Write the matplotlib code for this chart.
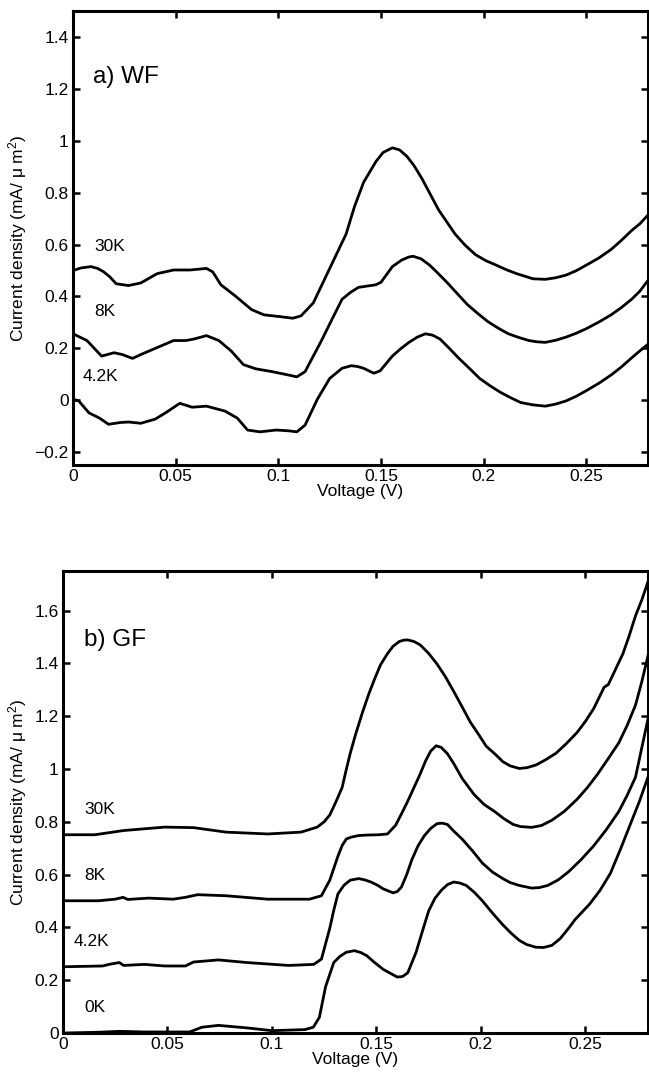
import numpy as np
import matplotlib
matplotlib.use("Agg")
import matplotlib.pyplot as plt
from matplotlib.ticker import FuncFormatter

plt.rcParams['font.family'] = ['Liberation Sans', 'DejaVu Sans']
plt.rcParams['mathtext.fontset'] = 'custom'
plt.rcParams['mathtext.rm'] = 'Liberation Sans'
plt.rcParams['mathtext.it'] = 'Liberation Sans:italic'

### panel a) WF, (voltage, current density)
wf_30k = [(0, 0.50), (0.004, 0.510), (0.0088, 0.515), (0.012, 0.508), (0.0149, 0.495),
          (0.018, 0.475), (0.021, 0.449), (0.027, 0.442), (0.033, 0.452), (0.041, 0.488),
          (0.049, 0.502), (0.057, 0.502), (0.065, 0.508), (0.068, 0.495), (0.072, 0.445),
          (0.079, 0.402), (0.087, 0.349), (0.093, 0.329), (0.101, 0.322), (0.107, 0.316),
          (0.111, 0.325), (0.117, 0.375), (0.125, 0.508), (0.133, 0.641), (0.137, 0.745),
          (0.1415, 0.84), (0.1475, 0.92), (0.151, 0.955), (0.1555, 0.973), (0.159, 0.965),
          (0.1626, 0.94), (0.166, 0.905), (0.170, 0.853), (0.178, 0.734), (0.186, 0.641),
          (0.191, 0.597), (0.196, 0.561), (0.201, 0.538), (0.206, 0.521), (0.211, 0.503),
          (0.216, 0.488), (0.224, 0.468), (0.230, 0.466), (0.235, 0.472), (0.240, 0.482),
          (0.245, 0.499), (0.250, 0.521), (0.256, 0.548), (0.262, 0.581), (0.267, 0.616),
          (0.272, 0.654), (0.276, 0.68), (0.280, 0.714)]

wf_8k = [(0, 0.256), (0.0068, 0.23), (0.0139, 0.170), (0.020, 0.183), (0.024, 0.176),
         (0.029, 0.161), (0.033, 0.176), (0.041, 0.203), (0.049, 0.23), (0.055, 0.23),
         (0.059, 0.236), (0.065, 0.249), (0.071, 0.23), (0.077, 0.19), (0.083, 0.137),
         (0.089, 0.121), (0.097, 0.110), (0.105, 0.097), (0.109, 0.090), (0.113, 0.110),
         (0.121, 0.23), (0.126, 0.31), (0.131, 0.389), (0.135, 0.415), (0.139, 0.435),
         (0.1475, 0.445), (0.150, 0.455), (0.1555, 0.515), (0.160, 0.540), (0.1635, 0.552),
         (0.1656, 0.555), (0.1695, 0.545), (0.1736, 0.521), (0.177, 0.495), (0.182, 0.455),
         (0.187, 0.412), (0.192, 0.369), (0.197, 0.335), (0.202, 0.303), (0.207, 0.278),
         (0.212, 0.256), (0.217, 0.242), (0.222, 0.230), (0.226, 0.225), (0.230, 0.223),
         (0.235, 0.231), (0.240, 0.243), (0.245, 0.258), (0.250, 0.276), (0.256, 0.301),
         (0.262, 0.329), (0.267, 0.357), (0.272, 0.389), (0.276, 0.42), (0.280, 0.462)]

wf_4k = [(0, 0.004), (0.0028, -0.003), (0.0078, -0.049), (0.0129, -0.069), (0.0173, -0.093),
         (0.023, -0.086), (0.027, -0.084), (0.033, -0.089), (0.040, -0.073), (0.045, -0.049),
         (0.052, -0.012), (0.058, -0.027), (0.065, -0.023), (0.074, -0.042), (0.080, -0.069),
         (0.085, -0.115), (0.091, -0.122), (0.099, -0.115), (0.105, -0.118), (0.109, -0.122),
         (0.113, -0.096), (0.119, 0.004), (0.125, 0.084), (0.131, 0.123), (0.1355, 0.133),
         (0.1385, 0.130), (0.1415, 0.123), (0.1465, 0.104), (0.1495, 0.113), (0.1555, 0.170),
         (0.1595, 0.198), (0.1636, 0.223), (0.1676, 0.243), (0.1716, 0.256), (0.175, 0.251),
         (0.1787, 0.236), (0.183, 0.202), (0.1877, 0.163), (0.193, 0.123), (0.198, 0.084),
         (0.203, 0.056), (0.208, 0.031), (0.213, 0.010), (0.218, -0.009), (0.224, -0.018),
         (0.230, -0.023), (0.235, -0.015), (0.240, -0.003), (0.245, 0.015), (0.250, 0.037),
         (0.256, 0.065), (0.262, 0.097), (0.267, 0.128), (0.272, 0.163), (0.276, 0.19),
         (0.280, 0.216)]

wf_labels = ['30K', '8K', '4.2K']
wf_label_pos = [(0.0105, 0.594), (0.0105, 0.342), (0.0048, 0.09)]

### panel b) GF
gf_30k = [(0, 0.751), (0.0152, 0.751), (0.029, 0.767), (0.0487, 0.780), (0.0625, 0.778),
          (0.078, 0.761), (0.098, 0.754), (0.114, 0.761), (0.1217, 0.780), (0.125, 0.80),
          (0.1277, 0.826), (0.1306, 0.875), (0.1336, 0.930), (0.1355, 0.995), (0.1375, 1.06),
          (0.140, 1.13), (0.1434, 1.216), (0.1464, 1.285), (0.1494, 1.346), (0.152, 1.395),
          (0.1553, 1.437), (0.158, 1.465), (0.161, 1.483), (0.163, 1.488), (0.165, 1.489),
          (0.168, 1.483), (0.171, 1.47), (0.175, 1.438), (0.179, 1.398), (0.183, 1.35),
          (0.187, 1.294), (0.191, 1.236), (0.195, 1.177), (0.199, 1.13), (0.2026, 1.086),
          (0.207, 1.055), (0.2105, 1.028), (0.214, 1.012), (0.2184, 1.002), (0.222, 1.005),
          (0.2263, 1.015), (0.231, 1.035), (0.236, 1.06), (0.241, 1.097), (0.246, 1.138),
          (0.250, 1.18), (0.254, 1.229), (0.259, 1.31), (0.261, 1.32), (0.264, 1.37),
          (0.268, 1.437), (0.271, 1.505), (0.274, 1.58), (0.277, 1.64), (0.280, 1.71)]

gf_8k = [(0, 0.501), (0.017, 0.501), (0.025, 0.507), (0.0288, 0.514), (0.031, 0.506),
         (0.041, 0.511), (0.0527, 0.507), (0.0586, 0.514), (0.0645, 0.524), (0.078, 0.520),
         (0.098, 0.507), (0.118, 0.507), (0.1237, 0.520), (0.1277, 0.579), (0.1316, 0.670),
         (0.1336, 0.71), (0.1356, 0.735), (0.138, 0.742), (0.1415, 0.748), (0.146, 0.75),
         (0.1513, 0.751), (0.1553, 0.754), (0.1592, 0.787), (0.162, 0.83), (0.165, 0.878),
         (0.168, 0.93), (0.171, 0.982), (0.1735, 1.03), (0.176, 1.068), (0.1786, 1.088),
         (0.181, 1.082), (0.184, 1.058), (0.187, 1.021), (0.191, 0.965), (0.1967, 0.904),
         (0.2015, 0.866), (0.2066, 0.839), (0.211, 0.812), (0.2155, 0.790), (0.219, 0.782),
         (0.2243, 0.779), (0.229, 0.786), (0.234, 0.806), (0.240, 0.84), (0.246, 0.885),
         (0.251, 0.93), (0.256, 0.982), (0.261, 1.04), (0.266, 1.099), (0.270, 1.165),
         (0.274, 1.242), (0.277, 1.33), (0.280, 1.43)]

gf_4k = [(0, 0.251), (0.019, 0.254), (0.022, 0.26), (0.027, 0.267), (0.029, 0.256),
         (0.039, 0.26), (0.0487, 0.254), (0.0586, 0.254), (0.0625, 0.269), (0.0744, 0.277),
         (0.088, 0.267), (0.108, 0.256), (0.12, 0.26), (0.1237, 0.28), (0.1277, 0.397),
         (0.1296, 0.465), (0.1316, 0.527), (0.1345, 0.56), (0.1375, 0.579), (0.1415, 0.585),
         (0.1445, 0.58), (0.1474, 0.572), (0.1505, 0.56), (0.1533, 0.546), (0.158, 0.531),
         (0.160, 0.536), (0.162, 0.553), (0.1645, 0.60), (0.167, 0.657), (0.170, 0.71),
         (0.173, 0.748), (0.176, 0.775), (0.179, 0.793), (0.1815, 0.795), (0.184, 0.790),
         (0.187, 0.765), (0.191, 0.735), (0.196, 0.69), (0.2007, 0.644), (0.2055, 0.61),
         (0.2105, 0.585), (0.214, 0.57), (0.2184, 0.559), (0.2243, 0.549), (0.228, 0.551),
         (0.232, 0.559), (0.237, 0.58), (0.242, 0.611), (0.248, 0.657), (0.254, 0.709),
         (0.260, 0.77), (0.266, 0.839), (0.270, 0.90), (0.274, 0.969), (0.277, 1.08),
         (0.280, 1.19)]

gf_0k = [(0, 0), (0.017, 0.003), (0.027, 0.0065), (0.039, 0.004), (0.0606, 0.004),
         (0.0665, 0.022), (0.0744, 0.029), (0.088, 0.0195), (0.100, 0.009), (0.1158, 0.013),
         (0.1198, 0.022), (0.1227, 0.059), (0.1257, 0.176), (0.1296, 0.267), (0.1325, 0.29),
         (0.1356, 0.306), (0.1395, 0.312), (0.1425, 0.305), (0.1454, 0.293), (0.149, 0.268),
         (0.1533, 0.241), (0.157, 0.225), (0.160, 0.212), (0.1625, 0.214), (0.165, 0.228),
         (0.169, 0.306), (0.172, 0.385), (0.175, 0.462), (0.178, 0.51), (0.181, 0.54),
         (0.184, 0.562), (0.187, 0.572), (0.190, 0.568), (0.193, 0.559), (0.197, 0.532),
         (0.2007, 0.501), (0.2055, 0.455), (0.2105, 0.41), (0.2145, 0.378), (0.2184, 0.351),
         (0.222, 0.335), (0.2263, 0.325), (0.230, 0.324), (0.234, 0.332), (0.238, 0.358),
         (0.242, 0.397), (0.245, 0.429), (0.252, 0.488), (0.257, 0.54), (0.262, 0.605),
         (0.267, 0.70), (0.272, 0.80), (0.276, 0.88), (0.280, 0.97)]

gf_labels = ['30K', '8K', '4.2K', '0K']
gf_label_pos = [(0.0103, 0.846), (0.0103, 0.598), (0.0049, 0.345), (0.0103, 0.098)]

x_ticks = [0, 0.05, 0.1, 0.15, 0.2, 0.25]
wf_y_ticks = [-0.2, 0, 0.2, 0.4, 0.6, 0.8, 1, 1.2, 1.4]
gf_y_ticks = [0, 0.2, 0.4, 0.6, 0.8, 1, 1.2, 1.4, 1.6]

FS = 12.5


def fmt(v, pos):
    s = '%g' % round(v, 4)
    return s.replace('-', '\u2212')


def style_axes(ax, yticks, ylim):
    ax.set_xlim(0, 0.28)
    ax.set_ylim(*ylim)
    ax.set_xticks(x_ticks)
    ax.set_yticks(yticks)
    ax.xaxis.set_major_formatter(FuncFormatter(fmt))
    ax.yaxis.set_major_formatter(FuncFormatter(fmt))
    ax.tick_params(direction='in', top=True, right=True, length=5, width=1.8,
                   labelsize=FS, pad=3)
    for sp in ax.spines.values():
        sp.set_linewidth(2.2)
    ax.set_xlabel('Voltage (V)', fontsize=FS, labelpad=0)
    ax.set_ylabel('Current density (mA/ \u03bc m$^2$)', fontsize=FS, labelpad=4)


def draw(ax, series):
    for s in series:
        a = np.array(s)
        ax.plot(a[:, 0], a[:, 1], color='black', lw=2.0, solid_joinstyle='round')


fig = plt.figure(figsize=(6.49, 10.79), dpi=100)

# top panel
ax1 = fig.add_axes([0.1125, 0.569, 0.886, 0.4207])
draw(ax1, [wf_30k, wf_8k, wf_4k])
for lab, (x, y) in zip(wf_labels, wf_label_pos):
    ax1.text(x, y, lab, fontsize=FS, va='center', ha='left')
ax1.text(0.0098, 1.245, 'a) WF', fontsize=17.5, va='center', ha='left')
style_axes(ax1, wf_y_ticks, (-0.25, 1.5))

# bottom panel
ax2 = fig.add_axes([0.097, 0.0426, 0.9015, 0.4282])
draw(ax2, [gf_30k, gf_8k, gf_4k, gf_0k])
for lab, (x, y) in zip(gf_labels, gf_label_pos):
    ax2.text(x, y, lab, fontsize=FS, va='center', ha='left')
ax2.text(0.0103, 1.49, 'b) GF', fontsize=17.5, va='center', ha='left')
style_axes(ax2, gf_y_ticks, (0, 1.75))

fig.savefig('out.png', dpi=100)
